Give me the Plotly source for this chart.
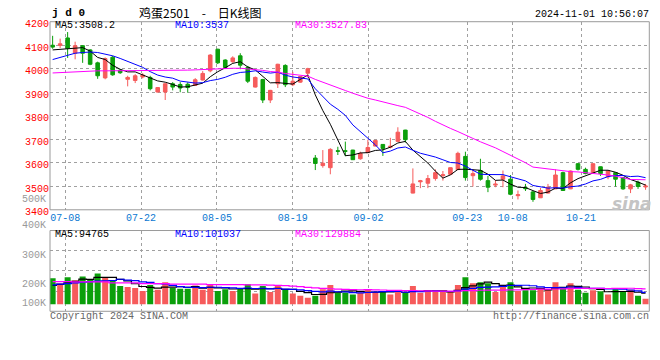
import plotly.graph_objects as go
import pandas as pd

# ---------------- data ----------------
holidays = ["2024-09-16", "2024-09-17", "2024-10-01", "2024-10-02",
            "2024-10-03", "2024-10-04", "2024-10-07"]
trade_days = [d.strftime("%Y-%m-%d") for d in pd.bdate_range("2024-07-04", "2024-11-01")
              if d.strftime("%Y-%m-%d") not in holidays]

tick_labels = ["07-08", "07-22", "08-05", "08-19", "09-02", "09-23", "10-08", "10-21"]

opens = [4100, 4099, 4131, 4066, 4098, 4080, 4025, 3961, 4049, 3994,
         3955, 3950, 3965, 3963, 3901, 3901, 3936, 3933, 3934, 3929,
         3952, 3991, 4083, 4037, 4030, 4055, 4006, 3922, 3954, 3867,
         3936, 4014, 3932, 3943, 3981, 3620, 3588, 3579, 3651, 3651,
         3654, 3617, 3643, 3671, 3678, 3666, 3691, 3739, 3471, 3519,
         3513, 3533, 3545, 3551, 3571, 3627, 3545, 3567, 3524, 3505,
         3530, 3530, 3460, 3494, 3476, 3451, 3471, 3489, 3558, 3489,
         3596, 3572, 3558, 3583, 3540, 3558, 3537, 3489, 3517, 3497]
highs = [4140, 4128, 4156, 4115, 4100, 4083, 4030, 4048, 4055, 3998,
         3970, 3977, 3981, 3970, 3922, 3938, 3943, 3943, 3942, 3960,
         3990, 4062, 4085, 4040, 4053, 4066, 4012, 3967, 3957, 3910,
         4021, 4019, 3987, 3968, 4004, 3633, 3654, 3662, 3668, 3690,
         3655, 3647, 3698, 3696, 3679, 3706, 3751, 3740, 3576, 3527,
         3548, 3572, 3565, 3580, 3647, 3647, 3572, 3617, 3544, 3526,
         3567, 3548, 3482, 3510, 3480, 3493, 3510, 3572, 3562, 3567,
         3599, 3579, 3597, 3584, 3567, 3559, 3538, 3510, 3524, 3510]
lows = [4085, 4088, 4046, 4040, 4025, 4015, 3957, 3955, 3970, 3978,
        3925, 3939, 3959, 3908, 3899, 3867, 3908, 3900, 3898, 3927,
        3950, 3985, 4020, 4000, 4025, 3998, 3939, 3920, 3854, 3854,
        3918, 3922, 3926, 3940, 3963, 3569, 3579, 3551, 3633, 3628,
        3612, 3613, 3643, 3670, 3629, 3661, 3689, 3686, 3470, 3492,
        3492, 3524, 3524, 3550, 3570, 3524, 3499, 3524, 3475, 3496,
        3496, 3462, 3444, 3480, 3434, 3450, 3470, 3488, 3480, 3488,
        3567, 3551, 3556, 3544, 3530, 3499, 3485, 3471, 3489, 3485]
closes = [4092, 4106, 4087, 4098, 4066, 4019, 3970, 4043, 3974, 3983,
          3963, 3970, 3973, 3915, 3920, 3936, 3922, 3918, 3920, 3953,
          3980, 4058, 4025, 4005, 4046, 4015, 3947, 3963, 3867, 3908,
          4019, 3932, 3947, 3967, 4000, 3597, 3598, 3657, 3649, 3649,
          3613, 3640, 3665, 3695, 3661, 3670, 3730, 3698, 3510, 3523,
          3533, 3558, 3549, 3579, 3640, 3537, 3554, 3530, 3496, 3509,
          3544, 3466, 3464, 3490, 3444, 3482, 3496, 3548, 3482, 3565,
          3572, 3554, 3596, 3554, 3565, 3530, 3489, 3506, 3499, 3501]
volumes = [221600, 176800, 229900, 205000, 238200, 211700, 263100, 229900, 203400, 156000,
           146900, 138600, 113700, 164300, 124500, 188400, 138600, 132800, 132800, 160200,
           124500, 171800, 113700, 127000, 113700, 138600, 171800, 91300, 155200, 105400,
           155200, 124500, 91300, 72200, 55600, 72200, 127000, 163500, 99600, 99600,
           83000, 99600, 130300, 105400, 105400, 83000, 122000, 97100, 155200, 97100,
           113700, 105400, 105400, 105400, 163500, 229900, 180100, 188400, 180100, 105400,
           155200, 188400, 113700, 118700, 118700, 138600, 124500, 188400, 146900, 180100,
           124500, 97100, 118700, 110400, 83000, 127000, 105400, 124500, 72200, 47300]

# moving-average values at the start of the window (their windows reach before the chart),
# read from the picture
ma5_head = [4080, 4083, 4087, 4089]
ma10_head = [4039, 4049, 4059, 4066, 4069, 4071, 4069, 4062, 4055]
ma30_head = [3982, 3984, 3986, 3988, 3989, 3990, 3991, 3991, 3991, 3991,
             3991, 3991, 3991, 3991, 3991, 3991, 3992, 3993, 3994, 3995,
             3997, 3999, 4000, 4001, 4002, 4002, 4000, 3997, 3993]
vma5_head = [160000, 170000, 183000, 195000]
vma10_head = [166000, 172000, 177000, 183000, 188000, 193000, 197000, 200000, 203000]
vma30_head = [193000, 193000, 193000, 191000, 191000, 191000, 191000, 191000,
              183000, 183000, 183000, 183000, 177000, 177000, 177000, 177000,
              172000, 172000, 172000, 172000, 172000, 168000, 168000, 168000,
              168000, 168000, 166000, 166000, 166000]

price_legend = ["MA5:3508.2", "MA10:3537", "MA30:3527.83"]
vol_legend = ["MA5:94765", "MA10:101037", "MA30:129884"]
price_ticks = [3400, 3500, 3600, 3700, 3800, 3900, 4000, 4100, 4200]
vol_tick_text = ["400K", "300K", "200K", "100K"]

# ---------------- helpers ----------------
def moving_average(values, n, head):
    s = pd.Series(values, dtype=float).rolling(n).mean()
    return list(head) + list(s.iloc[len(head):])

idx = list(range(len(trade_days)))
tick_idx = [next(i for i, d in enumerate(trade_days) if d[5:] == t) for t in tick_labels]

RED = "#f65b5b"
GREEN = "#0b9f0b"
MONO = "Liberation Mono"
W, H = 660, 360

def px(x, y):
    return x / W, 1 - y / H

L, R = 50, 649.3
P_TOP, P_BOT = 19.3, 213.3
V_TOP, V_BOT = 234.7, 318

# candle slots: x range of the panels; Sina spaces its date grid over n-1 slots
XR = [-0.35, 79.5]
n_days = len(trade_days)
grid_vals = [XR[0] + i * (XR[1] - XR[0]) / (n_days - 1) for i in tick_idx]

fig = go.Figure()

fig.add_trace(go.Candlestick(
    x=idx, open=opens, high=highs, low=lows, close=closes,
    increasing=dict(line=dict(color=RED, width=1), fillcolor=RED),
    decreasing=dict(line=dict(color=GREEN, width=1), fillcolor=GREEN),
    whiskerwidth=0, xaxis="x", yaxis="y", hoverinfo="skip"))

for n, head, col in [(5, ma5_head, "#000000"), (10, ma10_head, "#0000ff"),
                     (30, ma30_head, "#ff00ff")]:
    fig.add_trace(go.Scatter(x=idx, y=moving_average(closes, n, head), mode="lines",
                             line=dict(color=col, width=1), xaxis="x", yaxis="y",
                             hoverinfo="skip"))

bar_colors = [RED if c >= o else GREEN for o, c in zip(opens, closes)]
fig.add_trace(go.Bar(x=idx, y=volumes, marker=dict(color=bar_colors, line=dict(width=0)),
                     xaxis="x2", yaxis="y2", hoverinfo="skip"))

for n, head, col in [(5, vma5_head, "#000000"), (10, vma10_head, "#0000ff"),
                     (30, vma30_head, "#ff00ff")]:
    fig.add_trace(go.Scatter(x=idx, y=moving_average(volumes, n, head), mode="lines",
                             line=dict(color=col, width=1.2, shape="hvh"),
                             xaxis="x2", yaxis="y2", hoverinfo="skip"))

xdom = [L / W, R / W]
grid = dict(showgrid=True, gridcolor="#a0a0a0", griddash="dot", gridwidth=1,
            zeroline=False, showline=False, ticks="")
vk = 8300.0
vol_range = [-(V_BOT - 310.7) * vk, (310.7 - V_TOP) * vk]
vq = (vol_range[1] - vol_range[0]) / 4

fig.update_layout(
    width=W, height=H, margin=dict(l=0, r=0, t=0, b=0, pad=0), autosize=False,
    paper_bgcolor="white", plot_bgcolor="white", showlegend=False,
    bargap=0.2, boxgap=0.32,
    xaxis=dict(domain=xdom, range=XR, anchor="y", tickvals=grid_vals, ticktext=tick_labels,
               tickfont=dict(family=MONO, size=10, color="#0a78d2"),
               rangeslider=dict(visible=False), **grid),
    xaxis2=dict(domain=xdom, range=XR, anchor="y2", tickvals=grid_vals,
                showticklabels=False, **grid),
    yaxis=dict(domain=[1 - P_BOT / H, 1 - P_TOP / H], range=[3400, 4200], anchor="x",
               tickvals=price_ticks, ticktext=[str(t) for t in price_ticks],
               ticklabelshift=2,
               tickfont=dict(family=MONO, size=10, color="#ff0000"), **grid),
    yaxis2=dict(domain=[1 - V_BOT / H, 1 - V_TOP / H], range=vol_range, anchor="x2",
                tickvals=[vol_range[0] + vq * k for k in (1, 2, 3)],
                showticklabels=False, **grid),
)

shapes = []
for top, bot in [(P_TOP, P_BOT), (V_TOP, V_BOT)]:
    shapes.append(dict(type="rect", xref="paper", yref="paper", x0=L / W, x1=R / W,
                       y0=1 - bot / H, y1=1 - top / H, line=dict(color="#9a9a9a", width=1),
                       layer="above"))
fig.update_layout(shapes=shapes)

ann = []
def text(t, x, y, anchor="left", color="#000", size=10, family=MONO, **kw):
    ax, ay = px(x, y)
    ann.append(dict(text=t, x=ax, y=ay, xref="paper", yref="paper", xanchor=anchor,
                    yanchor="middle", showarrow=False, borderpad=0,
                    font=dict(family=family, size=size, color=color, **kw)))

text("<b>j d 0</b>", 51, 10, size=11)
text("鸡蛋2501\u2003-\u2003日K线图", 200, 10, anchor="center", size=12,
     family="Noto Sans CJK SC")
text("2024-11-01 10:56:07", 649.5, 11.5, anchor="right")
for t, x, c in zip(price_legend, [54, 174, 294], ["#000000", "#0000ff", "#ff00ff"]):
    text(t, x, 23.5, color=c)
for t, x, c in zip(vol_legend, [54, 174, 294], ["#000000", "#0000ff", "#ff00ff"]):
    text(t, x, 238.3, color=c)
text("500K", 47, 203, anchor="right", color="#999999")
for t, y in zip(vol_tick_text, [230, 260.7, 290, 309.7]):
    text(t, 47, y, anchor="right", color="#999999")
text("Copyright 2024 SINA.COM", 49, 323, color="#666666")
text("http://finance.sina.com.cn", 649.5, 323, anchor="right", color="#666666")
text("sina", 632, 207, anchor="center", color="#c4c4c4", size=17,
     family="DejaVu Sans", weight="bold", style="italic")
fig.update_layout(annotations=ann)

fig.write_html("out.html", config={"displayModeBar": False, "staticPlot": True},
               post_script="document.body.style.margin='0';document.body.style.overflow='hidden';")
